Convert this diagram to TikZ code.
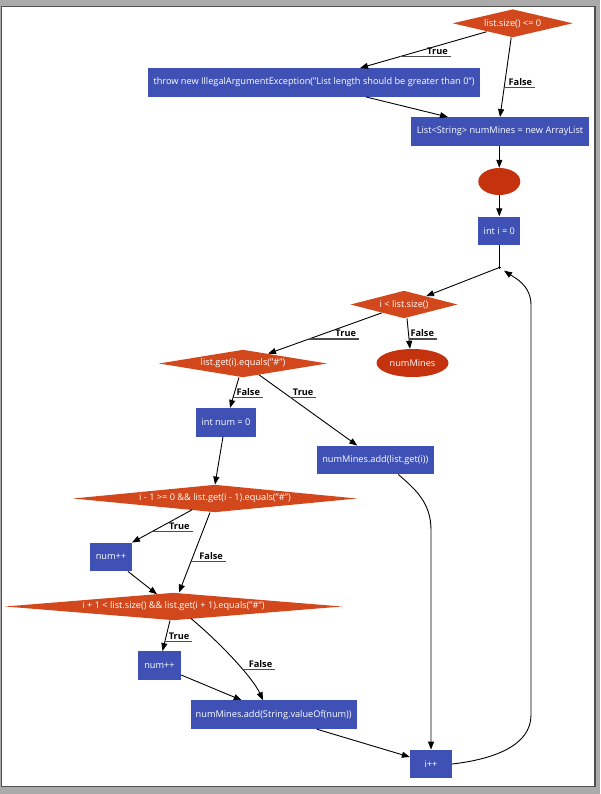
\documentclass[tikz,border=0pt]{standalone}
\usepackage{fontspec}
\setmainfont{Open Sans}
\usetikzlibrary{shapes.geometric,arrows.meta}
\definecolor{dia}{RGB}{210,72,28}
\definecolor{ell}{RGB}{197,50,14}
\definecolor{box}{RGB}{63,81,181}
\definecolor{pagegray}{RGB}{170,170,170}
\definecolor{pageedge}{RGB}{80,80,80}
\begin{document}
\begin{tikzpicture}[x=1pt,y=-1pt,
  every node/.style={font=\fontsize{9.2}{11}\selectfont, text=white, inner sep=0pt},
  proc/.style={rectangle, fill=box, minimum height=28.5pt},
  cond/.style={diamond, fill=dia, minimum height=27.5pt},
  term/.style={ellipse, fill=ell},
  arr/.style={draw=black, line width=0.9pt, -{Triangle[length=8pt,width=6pt]}},
  plain/.style={draw=black, line width=0.9pt},
  uline/.style={draw=black!70, line width=1.1pt},
  lbl/.style={text=black, font=\fontsize{9.2}{11}\selectfont\bfseries, anchor=base east, xshift=-2.5pt, yshift=2pt},
  jdot/.style={circle, fill=black, minimum size=3pt}
]
\useasboundingbox (0,0) rectangle (600,794);
\fill[pagegray] (0,0) rectangle (600,794);
\filldraw[fill=white, draw=pageedge, line width=1.2pt] (1.5,6.5) rectangle (595,786.5);

% nodes
\node[cond, minimum width=120pt, minimum height=28pt, aspect=4.3] (d1) at (512.7,23.3) {list.size() <= 0};
\node[proc, minimum width=332pt] (throw) at (314,82.5) {throw new IllegalArgumentException("List length should be greater than 0")};
\node[proc, minimum width=178pt] (list) at (500,131.5) {List<String> numMines = new ArrayList};
\node[term, minimum width=42pt, minimum height=27pt] (e1) at (499.3,181.5) {};
\node[proc, minimum width=42pt] (inti) at (499.3,230.8) {int i = 0};
\node[jdot] (j) at (499.3,267.5) {};
\node[cond, minimum width=107pt, aspect=3.9] (d2) at (404,304.5) {i < list.size()};
\node[term, minimum width=72pt, minimum height=28pt] (e2) at (412.5,363) {numMines};
\node[cond, minimum width=168pt, aspect=6.1] (d3) at (243,363.5) {list.get(i).equals("\#")};
\node[proc, minimum width=60pt] (num0) at (226,422.3) {int num = 0};
\node[proc, minimum width=117.5pt] (addi) at (375.3,460) {numMines.add(list.get(i))};
\node[cond, minimum width=284pt, aspect=10.3] (d4) at (215,498.5) {i - 1 >= 0 \&\& list.get(i - 1).equals("\#")};
\node[proc, minimum width=42pt] (inc1) at (111,557) {num++};
\node[cond, minimum width=337pt, aspect=12.2] (d5) at (173.5,606.5) {i + 1 < list.size() \&\& list.get(i + 1).equals("\#")};
\node[proc, minimum width=43pt] (inc2) at (159.5,665.5) {num++};
\node[proc, minimum width=166pt] (adds) at (273.7,714.7) {numMines.add(String.valueOf(num))};
\node[proc, minimum width=42pt] (ipp) at (431,764) {i++};

\coordinate (w1) at (431,530);
\coordinate (w2) at (531,715);
\coordinate (w3) at (531,305);

% connectors
\draw[arr] ([shift={(-26,8.4)}]d1.center) -- coordinate[pos=0.686] (l1) ([shift={(46,0)}]throw.north);
\draw[uline] (l1) -- ++(51,0) node[lbl] {True};

\draw[arr] ([shift={(-1.5,0)}]d1.south) -- coordinate[pos=0.629] (l2) (list.north);
\draw[uline] (l2) -- ++(31,0) node[lbl] {False};

\draw[arr] ([shift={(52,0)}]throw.south) -- ([shift={(-52,0)}]list.north);
\draw[arr] (e1.north |- list.south) -- (e1.north);
\draw[arr] (e1.south) -- (inti.north);
\draw[plain] (inti.south) -- (j);
\draw[arr] (j) -- ([shift={(22,-8.3)}]d2.center);

\draw[arr] ([shift={(-22.3,8.4)}]d2.center) -- coordinate[pos=0.639] (l3) ([shift={(25,-9.8)}]d3.center);
\draw[uline] (l3) -- ++(50,0) node[lbl] {True};

\draw[arr] ([shift={(3,0)}]d2.south) -- coordinate[pos=0.677] (l4) ([shift={(-2.5,0)}]e2.north);
\draw[uline] (l4) -- ++(28,0) node[lbl] {False};

\draw[arr] ([shift={(-4,0)}]d3.south) -- coordinate[pos=0.668] (l5) ([shift={(4,0)}]num0.north);
\draw[uline] (l5) -- ++(30,0) node[lbl] {False};

\draw[arr] ([shift={(16,11.3)}]d3.center) -- coordinate[pos=0.32] (l6) ([shift={(-18,0)}]addi.north);
\draw[uline] (l6) -- ++(26,0) node[lbl] {True};

\draw[arr] ([shift={(-3,0)}]num0.south) -- (d4.north);

\draw[arr] ([shift={(-23,11.3)}]d4.center) -- coordinate[pos=0.656] (l7) ([shift={(21,0)}]inc1.north);
\draw[uline] (l7) -- ++(40,0) node[lbl] {True};

\draw[arr] ([shift={(-5,0)}]d4.south) -- coordinate[pos=0.617] (l8) ([shift={(5.5,0)}]d5.north);
\draw[uline] (l8) -- ++(35,0) node[lbl] {False};

\draw[arr] ([shift={(17,0)}]inc1.south) -- ([shift={(-16.5,-12.2)}]d5.center);

\draw[arr] ([shift={(-3.5,0)}]d5.south) -- coordinate[pos=0.677] (l9) ([shift={(3,0)}]inc2.north);
\draw[uline] (l9) -- ++(27.5,0) node[lbl] {True};

\draw[arr] ([shift={(17.5,12)}]d5.center) .. controls +(31,26) and +(-10,-22) .. ([shift={(-10.7,0)}]adds.north) coordinate[pos=0.6] (l10);
\draw[uline] (l10) -- ++(33,0) node[lbl] {False};

\draw[arr] ([shift={(0,9.5)}]inc2.east) -- ([shift={(-32,0)}]adds.north);
\draw[arr] ([shift={(43,0)}]adds.south) -- ([shift={(0,-7)}]ipp.west);

\draw[arr] ([shift={(23,0)}]addi.south) .. controls +(16,14) and +(0,-28) .. (w1) -- (ipp.north);
\draw[arr, shorten >=4pt] (ipp.east) .. controls +(43,-5) and +(0,30) .. (w2) -- (w3) .. controls +(0,-20) and +(15,10) .. (j);
\end{tikzpicture}
\end{document}
